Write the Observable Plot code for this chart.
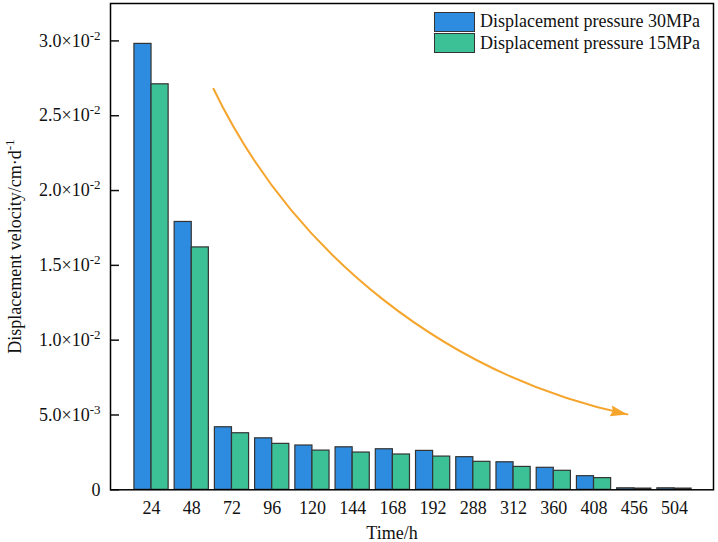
<!DOCTYPE html>
<html>
<head>
<meta charset="utf-8">
<script src="https://cdn.jsdelivr.net/npm/d3@7"></script>
<script src="https://cdn.jsdelivr.net/npm/@observablehq/plot@0.6"></script>
<style>
  body { margin: 0; background: #fff; }
  #wrap { position: relative; width: 718px; height: 542px; font-family: "Liberation Serif", "Times New Roman", serif; }
  #legend { position: absolute; left: 434px; top: 11px; }
  .item { display: flex; align-items: center; height: 21.5px; }
  .sw { width: 41px; height: 20px; border: 1.2px solid #333; box-sizing: border-box; margin-right: 5px; }
  .lab { font-size: 18px; color: #111; white-space: nowrap; }
</style>
</head>
<body>
<div id="wrap"><div id="legend"></div></div>
<script>
// ---- data ----
const categories = ["24","48","72","96","120","144","168","192","288","312","360","408","456","504"];
const seriesNames = ["Displacement pressure 30MPa", "Displacement pressure 15MPa"];
const seriesColors = ["#2E8CE0", "#3CC095"];
const velocity30 = [0.0298, 0.0179, 0.00418, 0.00344, 0.00296, 0.00284, 0.00271, 0.0026, 0.00218, 0.00184, 0.00147, 0.00091, 0.00010, 0.00010];
const velocity15 = [0.0271, 0.0162, 0.00378, 0.00307, 0.00262, 0.00249, 0.00236, 0.00222, 0.00187, 0.00153, 0.00127, 0.00078, 0.00008, 0.00008];
const yTickValues = [0, 0.005, 0.01, 0.015, 0.02, 0.025, 0.03];
const yTickLabels = ["0", "5.0×10^-3", "1.0×10^-2", "1.5×10^-2", "2.0×10^-2", "2.5×10^-2", "3.0×10^-2"];
const xTitle = "Time/h";
const yTitle = "Displacement velocity/cm·d^-1";
// trend arrow (category index, value)
const arrowFrom = [1.54, 0.0268];
const arrowTo = [11.83, 0.00504];

// ---- build ----
const rows = [];
categories.forEach((c, i) => {
  rows.push({i, s: 0, v: velocity30[i]});
  rows.push({i, s: 1, v: velocity15[i]});
});
const half = 0.425;
const font = '"Liberation Serif", "Times New Roman", serif';

const chart = Plot.plot({
  width: 718,
  height: 542,
  marginLeft: 110,
  marginRight: 5,
  marginTop: 3,
  marginBottom: 52.7,
  style: {fontFamily: font, fontSize: "18px", color: "#111", background: "#fff"},
  x: {type: "linear", domain: [-1.02, 13.97]},
  y: {domain: [0, 0.0325]},
  color: {domain: [0, 1], range: seriesColors},
  marks: [
    Plot.rectY(rows, {
      x1: d => d.i + (d.s === 0 ? -half : 0),
      x2: d => d.i + (d.s === 0 ? 0 : half),
      y1: 0, y2: "v",
      fill: "s", stroke: "#333", strokeWidth: 1.2
    }),
    Plot.arrow([{a: arrowFrom, b: arrowTo}], {
      x1: d => d.a[0], y1: d => d.a[1], x2: d => d.b[0], y2: d => d.b[1],
      bend: -26, stroke: "#F5A52C", strokeWidth: 2, headLength: 0
    }),
    Plot.axisX({ticks: d3.range(categories.length), tickFormat: i => categories[i], tickSize: 0, tickPadding: 11, label: null, fontSize: 18}),
    Plot.axisY({ticks: yTickValues, tickFormat: v => yTickLabels[yTickValues.indexOf(v)], tickSize: -9, tickPadding: 19, label: null, fontSize: 18, strokeWidth: 1.5}),
    Plot.text([xTitle], {text: d => d, frameAnchor: "bottom", dx: -20, dy: 49, lineAnchor: "bottom", fontSize: 18}),
    Plot.text([yTitle], {text: d => d, frameAnchor: "left", textAnchor: "middle", dx: -95, rotate: -90, fontSize: 18}),
    Plot.frame({stroke: "#000", strokeWidth: 1.5})
  ]
});

// superscripts
d3.select(chart).selectAll("text").each(function() {
  const t = this.textContent;
  if (!t.includes("^")) return;
  const [base, sup] = t.split("^");
  const sel = d3.select(this);
  sel.text(null);
  sel.append("tspan").text(base);
  sel.append("tspan").attr("dy", -7).attr("font-size", "13px").text(sup);
});

// filled arrowhead at the end of the trend arrow, oriented along the arc's end tangent
const arrowPath = d3.select(chart).select("g[aria-label='arrow'] path");
if (!arrowPath.empty()) {
  const p = arrowPath.node();
  const L = p.getTotalLength();
  const end = p.getPointAtLength(L);
  const prev = p.getPointAtLength(L - 2);
  const ang = Math.atan2(end.y - prev.y, end.x - prev.x);
  const hl = 17, hw = 5.5;
  const bx = end.x - hl * Math.cos(ang), by = end.y - hl * Math.sin(ang);
  const nx = -Math.sin(ang), ny = Math.cos(ang);
  d3.select(p.parentNode).append("path")
    .attr("d", `M${end.x},${end.y}L${bx + hw * nx},${by + hw * ny}L${bx + 2 * Math.cos(ang)},${by + 2 * Math.sin(ang)}L${bx - hw * nx},${by - hw * ny}Z`)
    .attr("fill", "#F5A52C").attr("stroke", "none");
}

const wrap = document.getElementById("wrap");
wrap.insertBefore(chart, wrap.firstChild);

const legend = d3.select("#legend");
seriesNames.forEach((n, k) => {
  const it = legend.append("div").attr("class", "item");
  it.append("div").attr("class", "sw").style("background", seriesColors[k]);
  it.append("div").attr("class", "lab").text(n);
});
</script>
</body>
</html>
